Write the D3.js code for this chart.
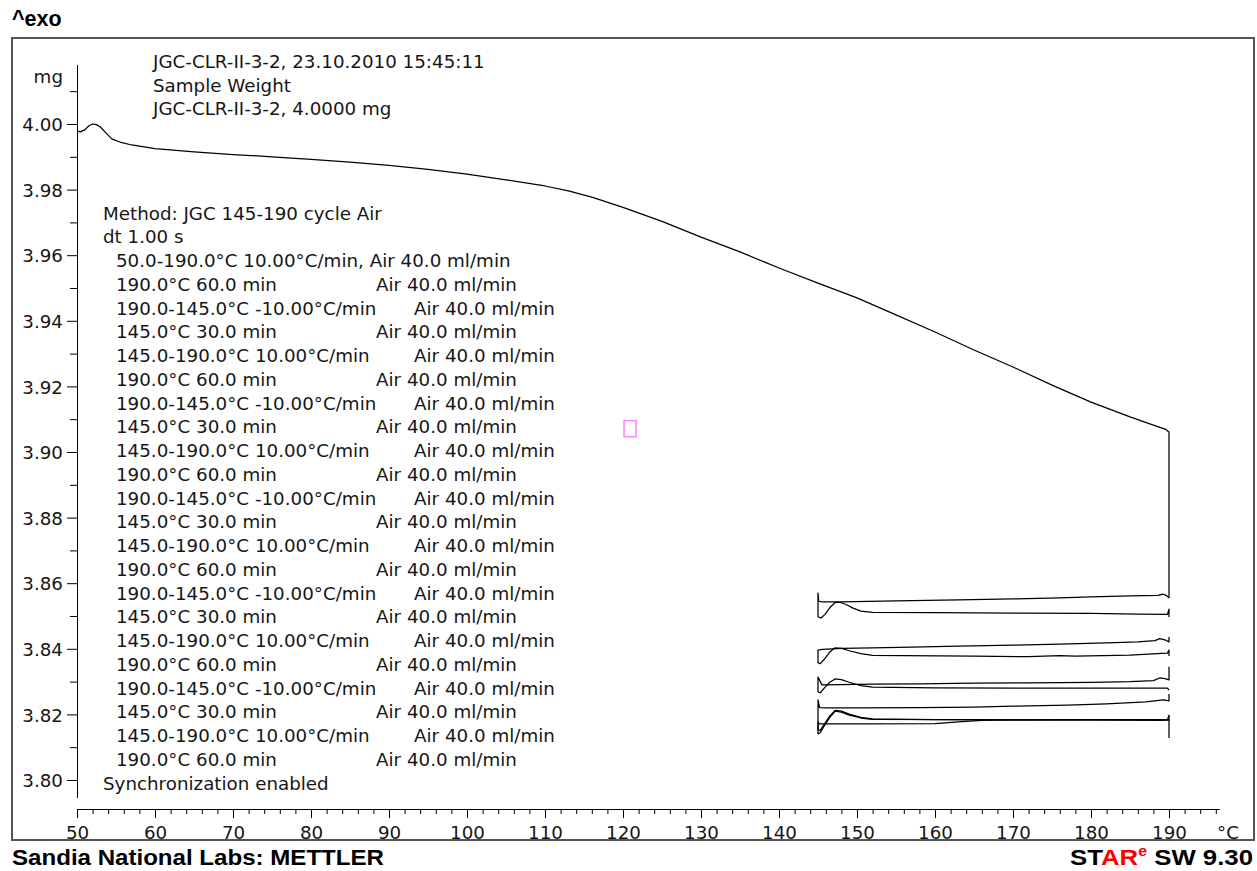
<!DOCTYPE html>
<html><head><meta charset="utf-8">
<script src="https://cdn.jsdelivr.net/npm/d3@7"></script>
<style>body{margin:0;background:#fff;} svg{display:block;}</style>
</head><body>
<svg id="c" width="1257" height="871"></svg>
<script>
// ---------------- DATA ----------------
const headerLines = ["JGC-CLR-II-3-2, 23.10.2010 15:45:11", "Sample Weight", "JGC-CLR-II-3-2, 4.0000 mg"];
const methodTitle = ["Method: JGC 145-190 cycle Air", "dt 1.00 s"];
const firstSegment = "50.0-190.0°C 10.00°C/min, Air 40.0 ml/min";
const segIso190 = ["190.0°C 60.0 min", "Air 40.0 ml/min"];
const segCool = ["190.0-145.0°C -10.00°C/min", "Air 40.0 ml/min"];
const segIso145 = ["145.0°C 30.0 min", "Air 40.0 ml/min"];
const segHeat = ["145.0-190.0°C 10.00°C/min", "Air 40.0 ml/min"];
const methodSteps = [segIso190, segCool, segIso145, segHeat, segIso190, segCool, segIso145, segHeat,
  segIso190, segCool, segIso145, segHeat, segIso190, segCool, segIso145, segHeat,
  segIso190, segCool, segIso145, segHeat, segIso190];
const methodFooter = "Synchronization enabled";

const yMajor = [3.80, 3.82, 3.84, 3.86, 3.88, 3.90, 3.92, 3.94, 3.96, 3.98, 4.00];
const yMinor = [3.81, 3.83, 3.85, 3.87, 3.89, 3.91, 3.93, 3.95, 3.97, 3.99, 4.01];
const yAxisExtent = [3.7945, 4.018];
const xMajor = [50, 60, 70, 80, 90, 100, 110, 120, 130, 140, 150, 160, 170, 180, 190];
const xMinor = [52,54,56,58,62,64,66,68,72,74,76,78,82,84,86,88,92,94,96,98,102,104,106,108,
  112,114,116,118,122,124,126,128,132,134,136,138,142,144,146,148,152,154,156,158,162,164,166,168,
  172,174,176,178,182,184,186,188,192,194,196];
const xAxisExtent = [50, 196.5];

// sample weight [temperature °C, mass mg]
const heat0 = [[50,3.9979],[50.4,3.9976],[51,3.9982],[51.5,3.9994],[52,4.0000],[52.5,3.9998],[53,3.9991],
  [53.7,3.9973],[54.5,3.9954],[55.5,3.9945],[57,3.9936],[60,3.9925],[65,3.9915],[70,3.9907],[75,3.9900],
  [80,3.9892],[85,3.9884],[90,3.9874],[95,3.9862],[100,3.9847],[105,3.9830],[110,3.9811],
  [113,3.9796],[116,3.9777],[120,3.9746],[125,3.9703],[130,3.9655],[135,3.9610],[140,3.9561],[145,3.9515],
  [150,3.9470],[155,3.9418],[160,3.9366],[165,3.9311],[170,3.9259],[175,3.9204],[180,3.9152],[185,3.9107],
  [188,3.9082],[189.5,3.9070],[190,3.9061],[190,3.8555]];
const cool1 = [[190,3.8555],[189.7,3.8562],[189.2,3.8567],[188.6,3.8563],[185,3.8561],[180,3.8558],[176,3.8555],
  [170,3.8552],[163,3.8549],[155,3.8546],[148,3.8543],[145.5,3.8543],[145.1,3.8545],[145,3.8570],[145,3.8497]];
const heat1 = [[145,3.8497],[145.4,3.8494],[145.9,3.8505],[146.5,3.8525],[147.2,3.8541],[147.8,3.8542],
  [148.6,3.8535],[149.5,3.8524],[150.5,3.8515],[152,3.8511],[160,3.8510],[170,3.8509],[180,3.8508],
  [186,3.8506],[189.8,3.8505],[190,3.8521],[190,3.8497]];
const cool2 = [[190,3.8436],[190,3.8421],[189.5,3.8427],[188.8,3.8431],[188.2,3.8425],[186,3.8421],[182,3.8418],
  [176,3.8414],[170,3.8411],[163,3.8408],[157,3.8405],[152,3.8403],[148,3.8401],[145.6,3.8398],[145,3.8396],[145,3.8357]];
const heat2 = [[145,3.8357],[145.3,3.8355],[145.8,3.8368],[146.5,3.8390],[147.2,3.8403],[148,3.8401],[149,3.8394],
  [150.5,3.8385],[152,3.8380],[156,3.8379],[165,3.8378],[172,3.8376],[176,3.8379],[178,3.8378],[185,3.8381],
  [188.5,3.8385],[189.8,3.8387],[190,3.8396],[190,3.8378]];
const cool3 = [[190,3.8345],[190,3.8305],[189.5,3.8309],[188.8,3.8311],[188,3.8303],[185,3.8300],[180,3.8298],
  [172,3.8296],[165,3.8295],[158,3.8293],[152,3.8292],[148,3.8291],[145.5,3.8290],[145,3.8314],[145,3.8268]];
const heat3 = [[145,3.8268],[145.3,3.8266],[145.8,3.8280],[146.5,3.8298],[147.2,3.8308],[148,3.8306],[149,3.8298],
  [150.5,3.8288],[152,3.8283],[160,3.8281],[175,3.8280],[185,3.8280],[189.8,3.8280],[190,3.8274]];
const cool4 = [[190,3.8262],[190,3.8241],[189.3,3.8244],[187,3.8238],[182,3.8232],[177,3.8228],[170,3.8225],
  [165,3.8222],[158,3.8221],[150,3.8220],[146,3.8220],[145.2,3.8221],[145,3.8244],[145,3.8152]];
const heat4 = [[145,3.8152],[145.3,3.8152],[145.8,3.8170],[146.5,3.8195],[147.2,3.8212],[148,3.8210],[149,3.8201],
  [150.5,3.8191],[152,3.8186],[160,3.8184],[175,3.8183],[186,3.8183],[189.8,3.8183],[190,3.8198]];
const cool5 = [[190,3.8198],[190,3.8183],[188,3.8184],[180,3.8184],[170,3.8183],[166,3.8182],[163,3.8177],
  [160,3.8172],[150,3.8171],[146,3.8171],[145.2,3.8171],[145,3.8176],[145,3.8140]];
const heat5 = [[145,3.8140],[145.3,3.8145],[145.8,3.8165],[146.5,3.8190],[147.2,3.8210],[148,3.8207],[149,3.8198],
  [150.5,3.8189],[152,3.8185],[165,3.8184],[180,3.8183],[189,3.8182],[189.8,3.8183],[190,3.8183],[190,3.8128]];
const markerPoint = [120.9, 3.9071];

// ---------------- DRAW ----------------
const svg = d3.select('#c');
const FONT = 'DejaVu Sans';
const FS = 18.5;
const TXT = '#161616';
const BOLD = 'Liberation Sans, Arial, sans-serif';

const probe = svg.append('text').attr('font-family', FONT).attr('font-size', FS).text(firstSegment);
const k = 395 / probe.node().getComputedTextLength();
probe.remove();

function ttext(parent, x, y, str, anchor) {
  return parent.append('text')
    .attr('transform', `translate(${x},${y}) scale(${k},1)`)
    .attr('text-anchor', anchor || 'start')
    .attr('font-family', FONT).attr('font-size', FS).attr('fill', TXT)
    .text(str);
}

const x = d3.scaleLinear().domain([50, 190]).range([77, 1169]);
const y = d3.scaleLinear().domain([3.80, 4.00]).range([780, 124]);

// frame
svg.append('rect').attr('x', 12).attr('y', 38).attr('width', 1242).attr('height', 802)
  .attr('fill', 'none').attr('stroke', '#555').attr('stroke-width', 2);

// top / bottom labels
svg.append('text').attr('x', 12).attr('y', 26).attr('font-family', BOLD)
  .attr('font-weight', 'bold').attr('font-size', 21.5).attr('fill', '#000').text('^exo');
svg.append('text').attr('x', 12).attr('y', 865).attr('font-family', BOLD)
  .attr('font-weight', 'bold').attr('font-size', 22.5).attr('fill', '#000')
  .attr('textLength', 372).attr('lengthAdjust', 'spacingAndGlyphs').text('Sandia National Labs: METTLER');
const star = svg.append('text').attr('x', 1070).attr('y', 865)
  .attr('font-family', BOLD).attr('font-weight', 'bold').attr('font-size', 22.5).attr('fill', '#000')
  .attr('textLength', 183).attr('lengthAdjust', 'spacingAndGlyphs');
star.append('tspan').text('ST');
star.append('tspan').attr('fill', '#ff0000').text('AR');
star.append('tspan').attr('fill', '#ff0000').attr('font-size', 14).attr('dy', -9).text('e');
star.append('tspan').attr('dy', 9).text(' SW 9.30');

// y axis
svg.append('line').attr('x1', 77.5).attr('x2', 77.5).attr('y1', y(yAxisExtent[1])).attr('y2', y(yAxisExtent[0]))
  .attr('stroke', '#000').attr('stroke-width', 1);
const yMajG = svg.append('g').attr('transform', 'translate(77,0)')
  .call(d3.axisLeft(y).tickValues(yMajor).tickSize(10).tickPadding(4).tickFormat(d3.format('.2f')));
yMajG.select('.domain').remove();
yMajG.attr('color', '#000');
yMajG.selectAll('text').attr('font-family', FONT).attr('font-size', FS).attr('fill', TXT)
  .attr('x', -14 / k).attr('dy', '0.36em').attr('transform', `scale(${k},1)`);
const yMinG = svg.append('g').attr('transform', 'translate(77,0)')
  .call(d3.axisLeft(y).tickValues(yMinor).tickSize(7).tickFormat(''));
yMinG.select('.domain').remove();
yMinG.attr('color', '#000');
ttext(svg, 63, 83, 'mg', 'end');

// x axis
const AXY = 809;
svg.append('line').attr('x1', x(xAxisExtent[0])).attr('x2', x(xAxisExtent[1])).attr('y1', AXY + 0.5).attr('y2', AXY + 0.5)
  .attr('stroke', '#000').attr('stroke-width', 1);
const xMajG = svg.append('g').attr('transform', `translate(0,${AXY})`)
  .call(d3.axisBottom(x).tickValues(xMajor).tickSize(9).tickPadding(8).tickFormat(d3.format('d')));
xMajG.select('.domain').remove();
xMajG.attr('color', '#000');
xMajG.selectAll('text').attr('font-family', FONT).attr('font-size', FS).attr('fill', TXT)
  .attr('transform', `scale(${k},1)`);
const xMinG = svg.append('g').attr('transform', `translate(0,${AXY})`)
  .call(d3.axisBottom(x).tickValues(xMinor).tickSize(5).tickFormat(''));
xMinG.select('.domain').remove();
xMinG.attr('color', '#000');
ttext(svg, 1228, 839, '°C', 'middle');

// header text
headerLines.forEach((s, i) => ttext(svg, 153, 68 + i * 23.5, s));

// method text
const LH = 23.75, B0 = 219.5;
ttext(svg, 103, B0, methodTitle[0]);
ttext(svg, 103, B0 + LH, methodTitle[1]);
ttext(svg, 116, B0 + 2 * LH, firstSegment);
methodSteps.forEach((st, i) => {
  const by = B0 + (i + 3) * LH;
  ttext(svg, 116, by, st[0]);
  const ax = (st === segCool || st === segHeat) ? 414 : 376;
  ttext(svg, ax, by, st[1]);
});
ttext(svg, 103, B0 + 24 * LH, methodFooter);

// curves
const line = d3.line().x(d => x(d[0])).y(d => y(d[1]));
[heat0, cool1, heat1, cool2, heat2, cool3, heat3, cool4, heat4, cool5, heat5].forEach(seg => {
  svg.append('path').datum(seg).attr('d', line).attr('fill', 'none')
    .attr('stroke', '#000').attr('stroke-width', 1.25).attr('stroke-linejoin', 'round');
});

// cursor marker
svg.append('rect').attr('x', x(markerPoint[0]) - 6).attr('y', y(markerPoint[1]) - 8)
  .attr('width', 12).attr('height', 16).attr('fill', 'none').attr('stroke', '#ff88ff').attr('stroke-width', 1.6);
</script>
</body></html>
